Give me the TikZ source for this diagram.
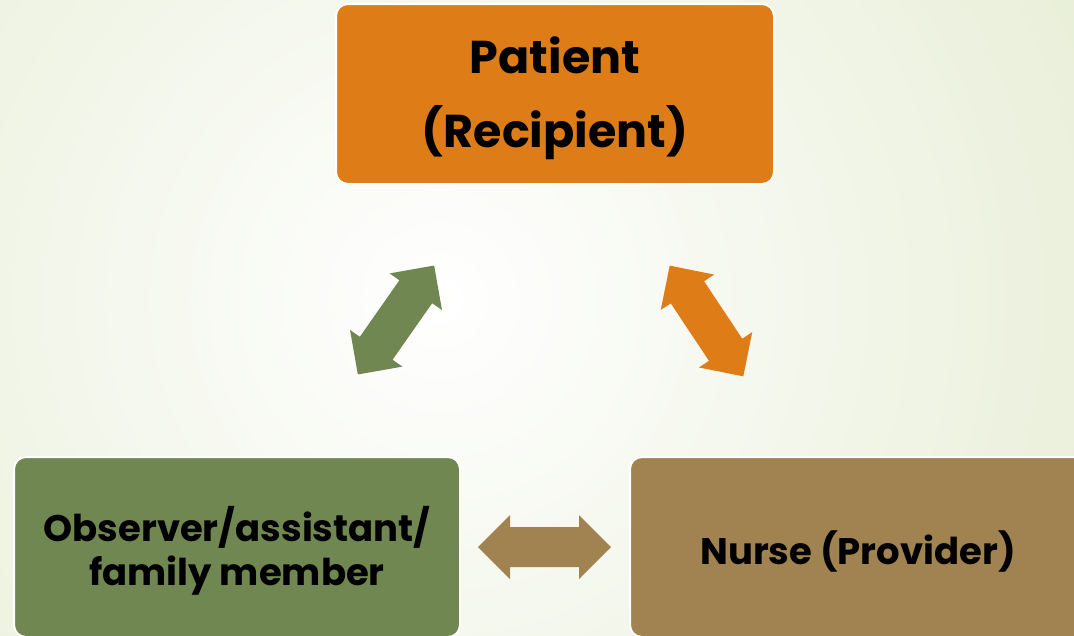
\documentclass[tikz,border=0pt]{standalone}
\usepackage{fontspec}
\setmainfont{Poppins}
\definecolor{orangebox}{HTML}{DE7D18}
\definecolor{greenbox}{HTML}{718752}
\definecolor{brownbox}{HTML}{A08350}
\definecolor{bgout}{HTML}{E7EED6}
\begin{document}
\begin{tikzpicture}[x=1pt,y=-1pt,
  box/.style={rectangle, rounded corners=12pt, draw=white, line width=2pt,
    minimum height=180pt, inner sep=0pt},
  boxtext/.style={align=center, text=black, inner sep=0pt},
  dblarrow/.pic={\fill[#1] (-66.5,0) -- (-34.5,-32) -- (-34.5,-20) -- (34.5,-20) -- (34.5,-32)
     -- (66.5,0) -- (34.5,32) -- (34.5,20) -- (-34.5,20) -- (-34.5,32) -- cycle;}]
\useasboundingbox (0,0) rectangle (1074,635);
\clip (0,0) rectangle (1074,635);
\shade[inner color=white, outer color=bgout] (440,300) circle (760);

\node[box, fill=orangebox, minimum width=438pt] (patient) at (555,94) {};
\node[boxtext, font=\bfseries\fontsize{46}{74}\selectfont] (patienttext)
  at ([yshift=-4pt]patient.center) {Patient\\(Recipient)};
\node[box, fill=greenbox, minimum width=446pt] (observer) at (237,547) {};
\node[boxtext, font=\bfseries\fontsize{37}{44}\selectfont] (observertext)
  at ([yshift=-4pt]observer.center) {Observer/assistant/\\family member};
\node[box, fill=brownbox, minimum width=456pt] (nurse) at (858,547) {};
\node[boxtext, font=\bfseries\fontsize{37}{44}\selectfont] (nursetext)
  at ([yshift=-4pt]nurse.center) {Nurse (Provider)};

\pic[rotate=55] at (396,320) {dblarrow=greenbox};
\pic[rotate=-56.4] at (706.5,321) {dblarrow=orangebox};
\pic at (544.5,547) {dblarrow=brownbox};
\end{tikzpicture}
\end{document}
